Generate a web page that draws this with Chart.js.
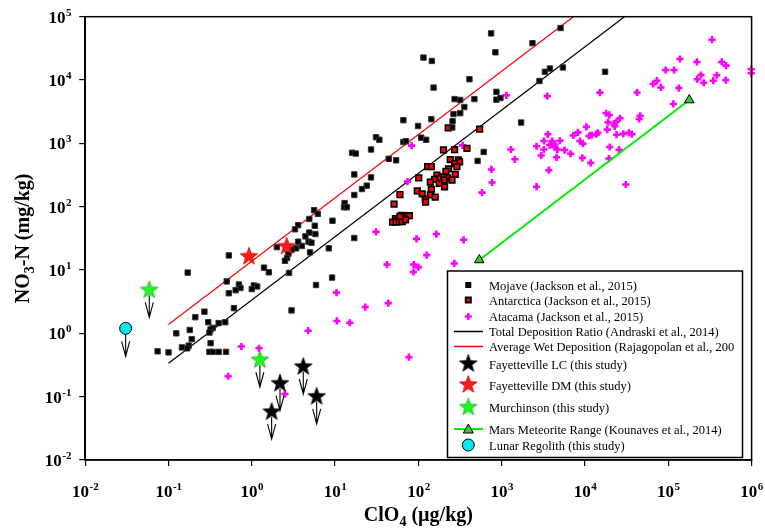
<!DOCTYPE html>
<html>
<head>
<meta charset="utf-8">
<script src="https://cdn.jsdelivr.net/npm/chart.js@4.4.1/dist/chart.umd.min.js"></script>
<style>
  html, body { margin: 0; padding: 0; background: #fff; }
</style>
</head>
<body>
<canvas id="chart" width="765" height="529"></canvas>
<script>
// axis ticks (decades) and their exponent labels
const xTicks = [1e-2, 1e-1, 1, 10, 100, 1e3, 1e4, 1e5, 1e6];
const xTickExp = ["-2", "-1", "0", "1", "2", "3", "4", "5", "6"];
const yTicks = [1e-2, 1e-1, 1, 10, 100, 1e3, 1e4, 1e5];
const yTickExp = ["-2", "-1", "0", "1", "2", "3", "4", "5"];

// Mojave (Jackson et al., 2015)
const mojaveX = [5.6, 6.2, 4.9, 3.6, 5.7, 3.3, 4.9, 5.8, 4.4, 3.6, 4.8, 5.2, 4.0, 2.0, 3.4, 3.0, 5.0, 2.75, 2.65, 2.5,
  8.4, 0.53, 0.17, 1.4, 1.6, 2.8, 0.50, 0.70, 1.06, 1.16, 0.73, 0.64, 1.0, 0.53, 5.9, 0.61, 3.0, 0.27, 0.21, 0.30,
  0.40, 0.48, 0.18, 0.34, 0.32, 0.31, 0.124, 0.19, 0.32, 0.175, 0.145, 0.168, 0.31, 0.34, 0.40, 0.49, 0.10, 0.074, 9.2, 17,
  145, 410, 152, 272, 318, 470, 356, 264, 318, 66, 143, 257, 255, 99, 31, 34, 66, 71, 108, 124,
  27, 16, 17.7, 44, 54, 17, 27, 24, 21, 17, 13, 12.8, 13.8, 9.3, 514, 608, 746, 2340, 5090, 840,
  115, 3300, 3790, 5430, 2840, 864, 864, 966, 1710, 17400];
const mojaveY = [88, 77, 64, 51, 50, 44, 39, 37, 34, 28, 28, 27, 24, 23, 22, 21, 19, 18, 15.5, 14,
  22, 17, 9.1, 10.9, 9.2, 9.0, 6.6, 5.9, 5.7, 5.5, 5.2, 4.8, 5.0, 4.3, 5.8, 2.5, 2.3, 2.2, 1.8, 1.5,
  1.45, 1.5, 1.13, 1.22, 1.15, 1.03, 1.0, 0.81, 0.70, 0.64, 0.60, 0.58, 0.51, 0.51, 0.51, 0.51, 0.50, 0.52, 7.6, 32,
  20000, 10300, 7600, 5000, 4850, 5000, 3750, 2900, 3000, 2320, 2410, 2240, 1780, 1880, 1250, 1140, 1050, 1080, 1230, 1140,
  800, 710, 690, 570, 540, 323, 290, 215, 190, 153, 114, 98, 98, 60, 528, 732, 54500, 38200, 66300, 27400,
  22600, 13500, 15200, 15800, 9650, 6500, 4900, 5200, 2130, 13500];

// Antarctica (Jackson et al., 2015)
const antX = [228, 200, 272, 383, 241, 301, 312, 272, 129, 143, 290, 230, 214, 277, 167, 192, 175, 224, 156, 204,
  253, 139, 178, 206, 101, 143, 97, 111, 139, 159, 121, 122, 60, 51, 53, 58, 63, 66, 74, 78,
  49, 54, 59, 64, 70, 60, 544];
const antY = [1760, 786, 794, 833, 555, 548, 510, 479, 429, 429, 429, 394, 362, 324, 316, 296, 276, 285, 269, 263,
  263, 244, 233, 206, 285, 188, 177, 160, 153, 142, 130, 118, 155, 110, 65, 63, 73, 67, 72, 72,
  57, 57, 58, 58, 62, 70, 1680];

// Atacama (Jackson et al., 2015)
const atacX = [1140, 3520, 15100, 42200, 340, 83, 1290, 1440, 752, 767,
  581, 2620, 3680, 30900, 74, 31, 95, 164, 349, 126,
  42, 88, 100, 87, 270, 10.4, 43.5, 23, 10.5, 15,
  4.75, 77, 0.75, 1.22, 0.52, 2.5, 3580, 2620, 3210, 3210,
  3760, 4050, 4350, 4650, 5000, 5690, 2980, 4560, 6720, 7240,
  8230, 10400, 8700, 9450, 11200, 12000, 13700, 14300, 9300, 11700,
  17900, 19600, 26300, 18900, 22300, 23700, 22800, 18500, 33700, 28800,
  23900, 19800, 25600, 19400, 45900, 44700, 36500, 335000, 138000, 221000,
  438000, 494000, 990000, 990000, 92900, 117000, 247000, 382000, 223000, 266000,
  347000, 490000, 72900, 65800, 81500, 134000, 115000, 4310];
const atacY = [5740, 5570, 6330, 6350, 930, 920, 800, 560, 387, 241,
  167, 207, 377, 224, 249, 40, 31, 37, 30, 17.2,
  12.2, 12.2, 11.1, 9.3, 12.7, 4.4, 3.0, 2.6, 1.57, 1.47,
  1.1, 0.42, 0.62, 0.58, 0.21, 0.11, 1390, 900, 1090, 800,
  940, 1090, 960, 800, 1100, 784, 643, 602, 685, 1330,
  1490, 1820, 1090, 990, 1310, 1350, 1400, 1470, 590, 491,
  2990, 2810, 2490, 2160, 2060, 2170, 1860, 1650, 1470, 1410,
  1370, 876, 794, 576, 2730, 2430, 1400, 43300, 21500, 19300,
  19300, 16900, 14800, 12800, 14400, 14400, 12000, 11900, 10300, 9050,
  9750, 10000, 9750, 8650, 7640, 7470, 4190, 870];

// reference lines
const totalDepX = [0.1, 29800];
const totalDepY = [0.336, 100000];
const wetDepX = [0.1, 7250];
const wetDepY = [1.38, 100000];
const marsX = [538, 178600];
const marsY = [14.4, 4830];

// this study (upper limits, drawn with arrows)
const lcX = [2.18, 1.73, 4.15, 6.01];
const lcY = [0.166, 0.059, 0.305, 0.103];
const dmX = [0.925, 2.62];
const dmY = [16.8, 24.2];
const murchX = [0.0588, 1.25];
const murchY = [4.95, 0.39];
const lunarX = [0.0306];
const lunarY = [1.2];

const legendLabels = [
  "Mojave (Jackson et al., 2015)",
  "Antarctica (Jackson et al., 2015)",
  "Atacama (Jackson et al., 2015)",
  "Total Deposition Ratio (Andraski et al., 2014)",
  "Average Wet Deposition (Rajagopolan et al., 200",
  "Fayetteville LC (this study)",
  "Fayetteville DM (this study)",
  "Murchinson (this study)",
  "Mars Meteorite Range (Kounaves et al., 2014)",
  "Lunar Regolith (this study)"
];

const SERIF = '"Liberation Serif", "Times New Roman", serif';
const pts = (xs, ys) => xs.map((x, i) => ({ x: x, y: ys[i] }));

function makeStar(fill, stroke) {
  const c = document.createElement("canvas");
  c.width = 22; c.height = 22;
  const g = c.getContext("2d");
  g.beginPath();
  for (let i = 0; i < 10; i++) {
    const r = i % 2 === 0 ? 9.2 : 3.8;
    const a = -Math.PI / 2 + i * Math.PI / 5;
    const px = 11 + r * Math.cos(a), py = 11.8 + r * Math.sin(a);
    if (i === 0) g.moveTo(px, py); else g.lineTo(px, py);
  }
  g.closePath();
  g.fillStyle = fill; g.fill();
  g.strokeStyle = stroke; g.lineWidth = 0.8; g.stroke();
  return c;
}
const starBlack = makeStar("#000000", "#000000");
const starRed = makeStar("#ff1a1a", "#cc0000");
const starGreen = makeStar("#22f522", "#18b018");

function drawPow(ctx, exp, x, y, align) {
  ctx.font = "bold 17px " + SERIF;
  const wb = ctx.measureText("10").width;
  ctx.font = "bold 11px " + SERIF;
  const we = ctx.measureText(exp).width;
  const x0 = align === "center" ? x - (wb + we) / 2 : x - wb - we;
  ctx.textAlign = "left";
  ctx.font = "bold 17px " + SERIF;
  ctx.fillText("10", x0, y);
  ctx.font = "bold 11px " + SERIF;
  ctx.fillText(exp, x0 + wb + 0.5, y - 7);
}

function drawSubText(ctx, parts, size) {
  // text, subscript, text - centred on the current origin
  const big = "bold " + size + "px " + SERIF, small = "bold " + Math.round(size * 0.68) + "px " + SERIF;
  ctx.font = big; const w1 = ctx.measureText(parts[0]).width; const w3 = ctx.measureText(parts[2]).width;
  ctx.font = small; const w2 = ctx.measureText(parts[1]).width;
  let x = -(w1 + w2 + w3) / 2;
  ctx.textAlign = "left";
  ctx.font = big; ctx.fillText(parts[0], x, 0); x += w1;
  ctx.font = small; ctx.fillText(parts[1], x, 5); x += w2;
  ctx.font = big; ctx.fillText(parts[2], x, 0);
}

function drawArrow(ctx, x, y) {
  ctx.beginPath();
  ctx.moveTo(x, y + 6); ctx.lineTo(x, y + 28);
  ctx.moveTo(x - 4, y + 13); ctx.lineTo(x, y + 28); ctx.lineTo(x + 4, y + 13);
  ctx.stroke();
}

const arrowPlugin = {
  id: "arrows",
  afterDatasetsDraw(chart) {
    const ctx = chart.ctx;
    ctx.save();
    ctx.strokeStyle = "#000"; ctx.lineWidth = 1.1;
    chart.data.datasets.forEach((ds, i) => {
      if (!ds.arrowDown) return;
      chart.getDatasetMeta(i).data.forEach(p => drawArrow(ctx, p.x, p.y));
    });
    ctx.restore();
  }
};

function legendMarker(ctx, kind, x, y) {
  ctx.save();
  if (kind === "mojave") {
    ctx.fillStyle = "#000"; ctx.fillRect(x - 3, y - 3, 6, 6);
  } else if (kind === "ant") {
    ctx.fillStyle = "#000"; ctx.fillRect(x - 3.5, y - 3.5, 7, 7);
    ctx.fillStyle = "#ff0000"; ctx.fillRect(x - 1.5, y - 1.5, 3, 3);
  } else if (kind === "atac") {
    ctx.strokeStyle = "#ff00ff"; ctx.lineWidth = 2.4;
    ctx.beginPath(); ctx.moveTo(x - 3.5, y); ctx.lineTo(x + 3.5, y);
    ctx.moveTo(x, y - 3.5); ctx.lineTo(x, y + 3.5); ctx.stroke();
  } else if (kind === "black" || kind === "red") {
    ctx.strokeStyle = kind === "black" ? "#000" : "#ff0000"; ctx.lineWidth = 1.3;
    ctx.beginPath(); ctx.moveTo(454, y); ctx.lineTo(483, y); ctx.stroke();
  } else if (kind === "mars") {
    ctx.strokeStyle = "#00ee00"; ctx.lineWidth = 2;
    ctx.beginPath(); ctx.moveTo(454, y); ctx.lineTo(483, y); ctx.stroke();
    ctx.fillStyle = "#33cc33"; ctx.strokeStyle = "#000"; ctx.lineWidth = 1;
    ctx.beginPath(); ctx.moveTo(x, y - 5); ctx.lineTo(x + 5, y + 4); ctx.lineTo(x - 5, y + 4);
    ctx.closePath(); ctx.fill(); ctx.stroke();
  } else if (kind === "lunar") {
    ctx.fillStyle = "#00e8f0"; ctx.strokeStyle = "#000"; ctx.lineWidth = 1;
    ctx.beginPath(); ctx.arc(x, y, 6, 0, Math.PI * 2); ctx.fill(); ctx.stroke();
  } else {
    ctx.drawImage(kind, x - 11, y - 12);
  }
  ctx.restore();
}

const decorPlugin = {
  id: "decor",
  afterDraw(chart) {
    const ctx = chart.ctx, a = chart.chartArea;
    const xs = chart.scales.x, ys = chart.scales.y;
    ctx.save();
    // frame
    ctx.strokeStyle = "#000"; ctx.lineWidth = 1.5;
    ctx.strokeRect(a.left, a.top, a.right - a.left, a.bottom - a.top);
    // tick labels
    ctx.fillStyle = "#000";
    xTicks.forEach((v, i) => drawPow(ctx, xTickExp[i], xs.getPixelForValue(v), 497, "center"));
    yTicks.forEach((v, i) => drawPow(ctx, yTickExp[i], 71, ys.getPixelForValue(v) + 6, "right"));
    // axis titles
    ctx.save();
    ctx.translate((a.left + a.right) / 2, 521);
    drawSubText(ctx, ["ClO", "4", " (\u00b5g/kg)"], 20);
    ctx.restore();
    ctx.save();
    ctx.translate(29, (a.top + a.bottom) / 2);
    ctx.rotate(-Math.PI / 2);
    drawSubText(ctx, ["NO", "3", "-N (mg/kg)"], 20);
    ctx.restore();
    // legend
    const bx = 447.5, by = 271, bw = 295, bh = 186.5;
    ctx.fillStyle = "#fff"; ctx.fillRect(bx, by, bw, bh);
    ctx.strokeStyle = "#000"; ctx.lineWidth = 1.5; ctx.strokeRect(bx, by, bw, bh);
    const rowY = [285, 300, 316.5, 331.5, 346.5, 364, 385, 407.5, 429, 445];
    const kinds = ["mojave", "ant", "atac", "black", "red", starBlack, starRed, starGreen, "mars", "lunar"];
    ctx.save();
    ctx.beginPath(); ctx.rect(bx, by, bw - 1, bh); ctx.clip();
    legendLabels.forEach((t, i) => {
      legendMarker(ctx, kinds[i], 468.3, rowY[i]);
      ctx.fillStyle = "#000"; ctx.font = "12.5px " + SERIF; ctx.textAlign = "left";
      ctx.fillText(t, 489, rowY[i] + 4.5);
    });
    ctx.restore();
    ctx.restore();
  }
};

const logAxis = (min, max, ticks) => ({
  type: "logarithmic",
  min: min,
  max: max,
  afterBuildTicks: s => { s.ticks = ticks.map(v => ({ value: v, major: true })); },
  ticks: { display: false },
  grid: { drawOnChartArea: false, drawTicks: true, tickLength: 6, color: "#000", lineWidth: 1.2 },
  border: { display: true, color: "#000", width: 1.5 }
});

const xAxis = logAxis(1e-2, 1e6, xTicks);
xAxis.afterFit = s => { s.height = 69; };
const yAxis = logAxis(1e-2, 1e5, yTicks);
yAxis.afterFit = s => { s.width = 85.2; };

new Chart(document.getElementById("chart"), {
  type: "scatter",
  data: {
    datasets: [
      { label: legendLabels[5], data: pts(lcX, lcY), pointStyle: starBlack, arrowDown: true, clip: false },
      { label: legendLabels[6], data: pts(dmX, dmY), pointStyle: starRed, clip: false },
      { label: legendLabels[7], data: pts(murchX, murchY), pointStyle: starGreen, arrowDown: true, clip: false },
      { label: legendLabels[9], data: pts(lunarX, lunarY), pointStyle: "circle", pointRadius: 6,
        backgroundColor: "#00e8f0", borderColor: "#000", borderWidth: 1, arrowDown: true, clip: false },
      { label: legendLabels[8], data: pts(marsX, marsY), showLine: true, borderColor: "#00ee00", borderWidth: 2,
        pointStyle: "triangle", pointRadius: 5.5, pointBackgroundColor: "#33cc33", pointBorderColor: "#000",
        pointBorderWidth: 1, clip: false },
      { label: legendLabels[0], data: pts(mojaveX, mojaveY), pointStyle: "rect", pointRadius: 3.8,
        backgroundColor: "#000", borderColor: "#333", borderWidth: 1, clip: false },
      { label: legendLabels[1], data: pts(antX, antY), pointStyle: "rect", pointRadius: 4,
        backgroundColor: "#ff0000", borderColor: "#000", borderWidth: 1.6, clip: false },
      { label: legendLabels[2], data: pts(atacX, atacY), pointStyle: "cross", pointRadius: 3.6,
        borderColor: "#ff00ff", borderWidth: 2.6, clip: false },
      { label: legendLabels[3], data: pts(totalDepX, totalDepY), showLine: true, borderColor: "#000",
        borderWidth: 1.2, pointRadius: 0 },
      { label: legendLabels[4], data: pts(wetDepX, wetDepY), showLine: true, borderColor: "#ff0000",
        borderWidth: 1.2, pointRadius: 0 }
    ]
  },
  options: {
    responsive: false,
    animation: false,
    events: [],
    layout: { padding: { left: 0, top: 16.7, right: 13.4, bottom: 0 } },
    plugins: { legend: { display: false }, tooltip: { enabled: false } },
    scales: { x: xAxis, y: yAxis }
  },
  plugins: [arrowPlugin, decorPlugin]
});
</script>
</body>
</html>
